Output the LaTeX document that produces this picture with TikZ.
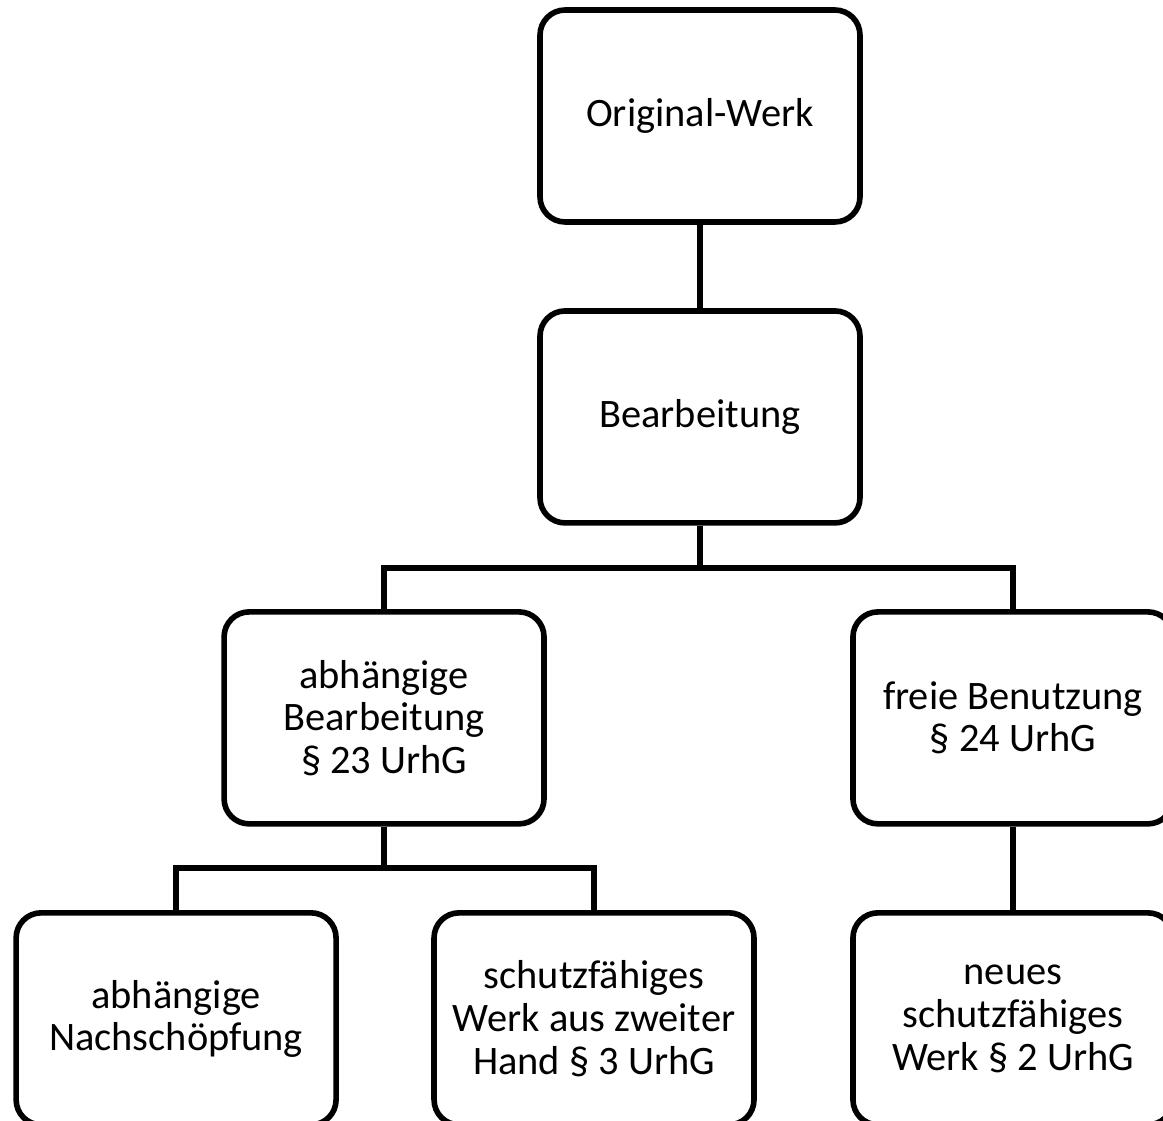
\documentclass[tikz,border=0pt]{standalone}
\usepackage{fontspec}
\setmainfont{Carlito}
\usetikzlibrary{positioning}
\tikzset{basic/.style={draw,line width=3.2pt,fill=white,align=center,font=\fontsize{23}{24.3}\selectfont}}
\tikzset{werk/.style={basic,rectangle,rounded corners=0.5cm,minimum width=6.4cm,minimum height=4.24cm}}
\tikzset{link/.style={draw,line width=3.2pt}}

\begin{document}
\begin{tikzpicture}[x=0.02cm,y=-0.02cm,node distance=6.02cm]
    \clip (0,0) rectangle (1163,1121);

    \node[werk] (orig) at (700,116) {Original-Werk};
    \node[werk,below of=orig] (bearb) {Bearbeitung};

    \node[werk,below of=bearb,xshift=-6.32cm] (abh) {abhängige\\Bearbeitung\\§ 23 UrhG};
    \node[werk,below of=bearb,xshift=6.26cm] (frei) {freie Benutzung\\§ 24 UrhG};

    \node[werk,below of=abh,xshift=-4.16cm] (nach) {abhängige\\Nachschöpfung};
    \node[werk,below of=abh,xshift=4.2cm] (zweit) {schutzfähiges\\Werk aus zweiter\\Hand § 3 UrhG};
    \node[werk,below of=frei] (neu) {neues\\schutzfähiges\\Werk § 2 UrhG};

    \coordinate[below of=bearb,node distance=3.02cm] (j1);
    \coordinate[below of=abh,node distance=3.0cm] (j2);

        \path[link] (orig) -- (bearb);
        \path[link] (bearb) -- (j1);
        \path[link] (abh.north) |- (j1) -| (frei.north);
        \path[link] (abh) -- (j2);
        \path[link] (nach.north) |- (j2) -| (zweit.north);
        \path[link] (frei) -- (neu);
\end{tikzpicture}
\end{document}
